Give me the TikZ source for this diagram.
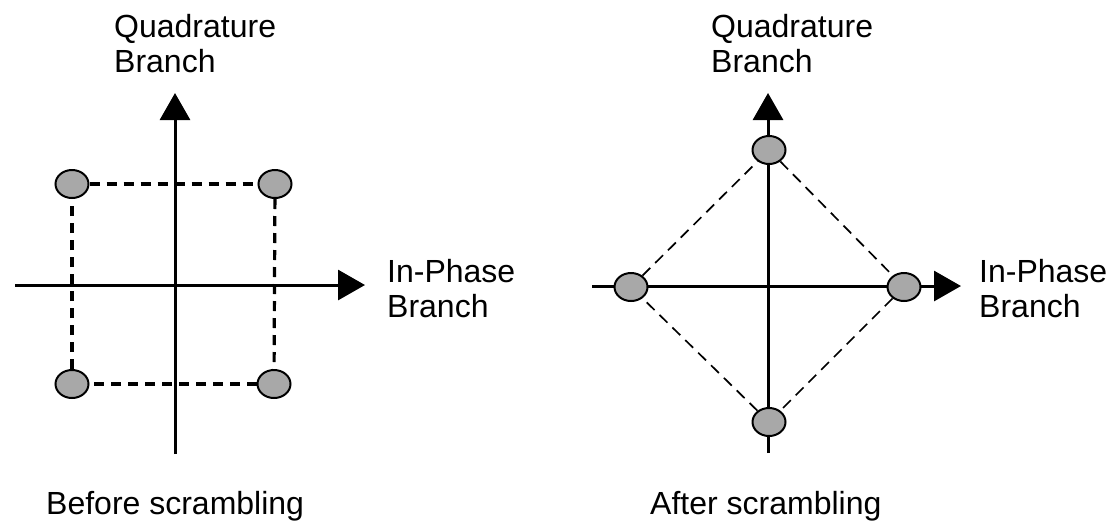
\documentclass[tikz,border=0pt]{standalone}
\usepackage{fontspec}
\setmainfont{Liberation Sans}
\usetikzlibrary{arrows.meta,shapes.geometric}
\definecolor{pointgray}{RGB}{168,168,168}

\begin{document}
\begin{tikzpicture}[x=1pt, y=-1pt,
  axis/.style={line width=3pt, -{Triangle[length=27pt, width=30pt]}},
  point/.style={ellipse, draw, line width=2pt, fill=pointgray,
    minimum width=33pt, minimum height=28pt, inner sep=0pt},
  boxline/.style={line width=3.2pt, dash pattern=on 10pt off 7pt},
  rhombline/.style={line width=1.7pt, dash pattern=on 11pt off 7pt},
  txt/.style={font=\fontsize{32}{35}\selectfont, align=left,
    anchor=base west, inner sep=0pt}]
  \useasboundingbox (0,0) rectangle (1113,528);

  % Before scrambling: axes
  \coordinate (iL0) at (15,285);
  \coordinate (iL1) at (365,285);
  \coordinate (qL0) at (175,454);
  \coordinate (qL1) at (175,93);
  \draw[axis] (iL0) -- (iL1);
  \draw[axis] (qL0) -- (qL1);

  % Before scrambling: constellation points
  \node[point] (p1) at (72,184) {};
  \node[point] (p2) at (275,184) {};
  \node[point] (p3) at (72,384) {};
  \node[point] (p4) at (274,384) {};
  \draw[boxline] (p1) -- (p2);
  \draw[boxline] (p2) -- (p4);
  \draw[boxline] (p4) -- (p3);
  \draw[boxline] (p3) -- (p1);

  % base anchor sits on the last line
  \node[txt] (qlabL) at (114,72) {Quadrature\\Branch};
  \node[txt] (ilabL) at (387,317) {In-Phase\\Branch};
  \node[txt] (capL) at (46,514) {Before scrambling};

  % After scrambling: axes
  \coordinate (iR0) at (592,286);
  \coordinate (iR1) at (961,286);
  \coordinate (qR0) at (768,453);
  \coordinate (qR1) at (768,93);
  \draw[axis] (iR0) -- (iR1);
  \draw[axis] (qR0) -- (qR1);

  % After scrambling: constellation points
  \node[point] (r1) at (769,150) {};
  \node[point] (r2) at (904,287) {};
  \node[point] (r3) at (769,422) {};
  \node[point] (r4) at (631,287) {};
  \draw[rhombline] (r1) -- (r2);
  \draw[rhombline] (r2) -- (r3);
  \draw[rhombline] (r3) -- (r4);
  \draw[rhombline] (r4) -- (r1);

  \node[txt] (qlabR) at (711,72) {Quadrature\\Branch};
  \node[txt] (ilabR) at (979,317) {In-Phase\\Branch};
  \node[txt] (capR) at (650,514) {After scrambling};
\end{tikzpicture}
\end{document}
